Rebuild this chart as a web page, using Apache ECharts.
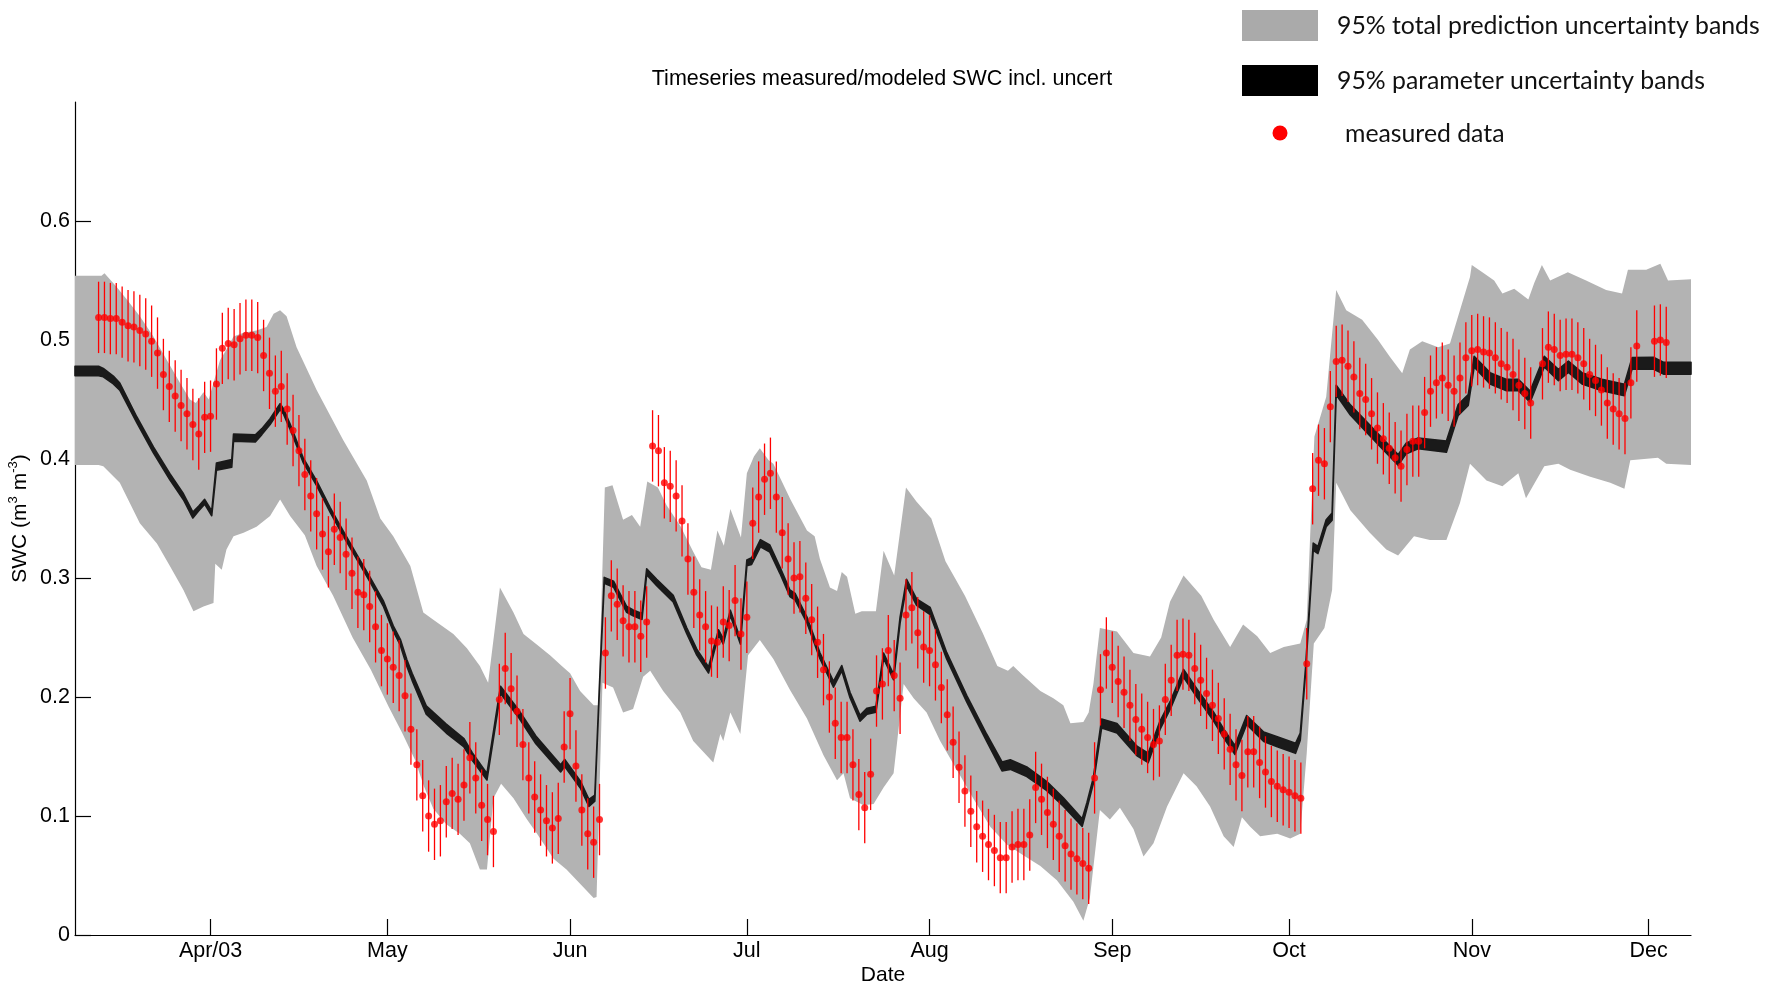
<!DOCTYPE html>
<html>
<head>
<meta charset="utf-8">
<title>SWC time series</title>
<script src="https://cdn.jsdelivr.net/npm/echarts@6/dist/echarts.min.js"></script>
<style>
  html, body { margin: 0; padding: 0; background: #ffffff; }
  #chart { width: 1777px; height: 994px; }
</style>
</head>
<body>
<div id="chart"></div>
<script>
// All day values are days counted from 1 April 2003.
const monthStarts = [0, 30, 61, 91, 122, 153, 183, 214, 244];
const monthLabels = ['Apr/03', 'May', 'Jun', 'Jul', 'Aug', 'Sep', 'Oct', 'Nov', 'Dec'];
const swcTicks = [0, 0.1, 0.2, 0.3, 0.4, 0.5, 0.6];

// 95% total prediction uncertainty: upper edge [day, SWC]
const totalUpper = [
  [-23, .554], [-18.5, .554], [-18, .556], [-16, .545], [-14.2, .534], [-12, .520], [-9.7, .503],
  [-7.4, .483], [-5.2, .464], [-3.5, .450], [-2.5, .447], [-1.2, .456], [-0.3, .450], [0.5, .464],
  [1.6, .483], [2.7, .492], [3.9, .503], [5.6, .506], [7.8, .508], [9.5, .511], [10.7, .522],
  [11.8, .525], [12.9, .520], [14.6, .494], [18, .458], [22.5, .416], [26.5, .382], [28.8, .350],
  [31, .335], [33.9, .310], [36.1, .271], [37.8, .265], [41.2, .253], [43.5, .241], [45.7, .226],
  [47.1, .212], [49.1, .292], [51.4, .271], [53.1, .253], [55.4, .244], [57.6, .235], [59.6, .226],
  [61, .220], [62.7, .205], [65, .193], [65.8, .193], [66.9, .376], [68.2, .378], [70, .349],
  [71.5, .353], [72.9, .343], [74.1, .381], [75.9, .376], [77.4, .361], [79.7, .344], [81.9, .322],
  [83.3, .309], [84.9, .307], [86, .340], [87.1, .327], [88.2, .358], [90, .334], [91, .388],
  [92.2, .402], [93.2, .409], [94.7, .399], [95.5, .396], [98.4, .366], [101.2, .340], [102.5, .335],
  [103.4, .316], [105.1, .292], [106.3, .289], [107.1, .305], [108, .301], [109.4, .270], [110.5, .272],
  [112.9, .272], [114.2, .323], [116, .302], [118, .376], [119.8, .364], [122.3, .350], [124.7, .314],
  [128, .285], [131, .254], [133.5, .226], [135.3, .222], [136.2, .226], [137.7, .219], [140.8, .205],
  [143, .199], [144.7, .193], [145.9, .178], [148.1, .179], [149, .187], [149.8, .211], [150.9, .258],
  [153.8, .255], [156.6, .237], [159.4, .234], [161.3, .250], [162.8, .280], [165.1, .302], [168.1, .285],
  [170.2, .265], [173, .242], [175.2, .261], [177.6, .251], [179.8, .237], [182.1, .242], [184.9, .245],
  [186, .265], [186.6, .338], [187.3, .419], [189.3, .452], [191, .542], [192.7, .525], [195.4, .517],
  [198.1, .500], [200.1, .486], [202.2, .472], [203.5, .492], [205.6, .499], [208.3, .494], [210.3, .497],
  [212, .525], [213.7, .553], [214, .563], [215.8, .557], [217.8, .550], [219.2, .539], [221.2, .543],
  [223.6, .534], [224.6, .548], [225.9, .563], [227.3, .550], [230.3, .557], [233.4, .550], [236.8, .542],
  [239.5, .539], [240.5, .559], [243.6, .559], [246, .564], [247.3, .550], [251.2, .551]
];

// 95% total prediction uncertainty: lower edge [day, SWC]
const totalLower = [
  [-23, .395], [-19, .395], [-18.2, .394], [-15.4, .380], [-13.7, .363], [-12, .346], [-9.1, .329],
  [-6.9, .310], [-4.6, .290], [-2.9, .272], [-1.2, .276], [0.5, .279], [0.8, .312], [1.9, .307],
  [2.7, .324], [3.9, .335], [5.6, .338], [7.8, .343], [10.1, .352], [11.8, .366], [13.5, .352],
  [16, .336], [18, .310], [20.8, .285], [24.1, .250], [27.2, .223], [30.2, .192], [32.5, .170],
  [34.7, .147], [36.2, .125], [37.8, .106], [40, .093], [42.3, .085], [44, .077], [45.7, .055],
  [46.9, .055], [48, .115], [49.3, .127], [51.4, .115], [53.7, .097], [55.4, .085], [58.2, .064],
  [60.4, .055], [62.7, .043], [65, .031], [65.5, .032], [66.5, .212], [68.3, .208], [70, .187],
  [71.7, .190], [73.4, .217], [74.6, .222], [76.8, .205], [79.7, .187], [81.9, .163], [85.3, .145],
  [86.5, .169], [87, .163], [88.2, .187], [89.9, .169], [91.2, .235], [93.2, .248], [95.5, .232],
  [98.3, .206], [101.2, .182], [104, .151], [106.3, .130], [107.4, .136], [108.5, .115], [110.8, .109],
  [112.5, .110], [114.2, .124], [115.9, .136], [117.6, .211], [119.3, .199], [121.5, .187], [123.8, .163],
  [126.6, .139], [129.4, .115], [132.3, .091], [135.1, .076], [137.9, .067], [140.8, .058], [143.6, .046],
  [146.4, .028], [148.1, .012], [149.2, .031], [150.9, .105], [152.6, .097], [154.3, .107], [156.6, .089],
  [158.3, .066], [160, .077], [162.3, .108], [165.1, .136], [167.3, .125], [169.6, .108], [171.9, .083],
  [173.6, .074], [175, .099], [176.4, .091], [178.1, .083], [181, .085], [183.2, .081], [184.9, .085],
  [186, .153], [187.2, .245], [189, .258], [190.3, .290], [191, .380], [193.4, .357], [196.7, .338],
  [199.5, .324], [201.5, .319], [204.2, .335], [206.9, .332], [209.7, .332], [212, .363], [213.7, .396],
  [216.5, .382], [219.2, .377], [221.9, .388], [223.2, .367], [226.3, .394], [228.7, .396], [230.7, .391],
  [234.1, .385], [237.5, .380], [239.9, .375], [240.9, .399], [245.6, .401], [247, .396], [251.2, .395]
];

// 95% parameter uncertainty: [day, centre SWC, band width]
const paramBand = [
  [-23, .474, .0080], [-19, .474, .0080], [-18.2, .4726, .0070], [-16.5, .4664, .0065], [-15.4, .4608, .0060],
  [-12.5, .4328, .0050], [-9.7, .4076, .0050], [-6.9, .3851, .0050], [-4.6, .3683, .0050], [-3, .3529, .0050],
  [-2, .3585, .0040], [-1, .3641, .0040], [0.2, .3543, .0040], [1, .3936, .0060], [3.6, .3963, .0065],
  [3.9, .4179, .0060], [7.6, .4173, .0060], [8.7, .4230, .0050], [10.1, .4314, .0050], [11.8, .4440, .0050],
  [12.4, .4398, .0045], [13.5, .4272, .0045], [15.7, .3992, .0040], [18, .3796, .0040], [20.3, .3571, .0040],
  [22.5, .3375, .0040], [24.8, .3179, .0040], [27.1, .2983, .0040], [29.3, .2787, .0045], [31, .2575, .0045],
  [32.2, .2460, .0050], [33.3, .2287, .0055], [34.2, .2170, .0060], [36.6, .1890, .0070], [40, .1735, .0075],
  [43, .1615, .0070], [44.4, .1500, .0065], [46.9, .1330, .0055], [49.2, .2060, .0060], [52.2, .1865, .0065],
  [55.2, .1640, .0065], [59.4, .1400, .0060], [60.1, .1445, .0060], [62.8, .1260, .0060], [64.2, .1110, .0060],
  [65.2, .1150, .0050], [66, .2100, .0030], [66.8, .2980, .0050], [68.4, .2947, .0050], [70.6, .2737, .0050],
  [71.7, .2707, .0050], [73.2, .2677, .0050], [74, .3052, .0050], [75.7, .2962, .0055], [78.5, .2827, .0055],
  [80.8, .2557, .0050], [82.5, .2377, .0050], [84.5, .2227, .0050], [86.2, .2542, .0045], [87, .2467, .0045],
  [88.2, .2707, .0045], [89.9, .2467, .0045], [91, .3127, .0050], [91.8, .3142, .0055], [93.3, .3292, .0060],
  [94.9, .3247, .0060], [96.6, .3067, .0055], [98.3, .2872, .0055], [99.2, .2842, .0055], [101.2, .2647, .0050],
  [103.4, .2347, .0050], [105.7, .2107, .0050], [107.1, .2242, .0045], [108.5, .2017, .0045], [110.2, .1822, .0050],
  [111.4, .1881, .0050], [112.9, .1897, .0050], [114.2, .2347, .0045], [115.9, .2167, .0045], [117, .2647, .0050],
  [118.1, .2962, .0055], [119.8, .2797, .0055], [122.1, .2722, .0060], [124.9, .2347, .0055], [128.3, .1987, .0055],
  [131.7, .1657, .0060], [134.3, .1417, .0075], [135.7, .1432, .0080], [138.5, .1372, .0080], [141.9, .1251, .0075],
  [144.7, .1117, .0070], [147.9, .0945, .0065], [148.7, .1087, .0050], [149.8, .1300, .0050], [151.2, .1778, .0075],
  [153.8, .1737, .0080], [157.2, .1546, .0080], [159.1, .1488, .0080], [161.1, .1763, .0070], [162.9, .1937, .0065],
  [165.1, .2199, .0065], [167.4, .2031, .0070], [170.2, .1835, .0075], [171.9, .1695, .0075], [173.8, .1555, .0075],
  [175.8, .1807, .0075], [178.7, .1666, .0080], [181, .1624, .0085], [184.1, .1569, .0085], [184.9, .1666, .0060],
  [185.8, .2227, .0040], [187.1, .3263, .0060], [187.9, .3235, .0060], [189.3, .3460, .0060], [190.3, .3515, .0060],
  [191, .4580, .0080], [193.4, .4412, .0085], [196.1, .4272, .0090], [198.8, .4132, .0090], [201.5, .3992, .0090],
  [202.9, .4090, .0090], [204.9, .4132, .0090], [209.7, .4104, .0095], [211.7, .4412, .0090], [213.4, .4496, .0090],
  [214.4, .4818, .0090], [217.1, .4678, .0095], [219.8, .4622, .0095], [221.9, .4622, .0095], [223.9, .4524, .0095],
  [226.3, .4818, .0090], [228.7, .4706, .0095], [230.4, .4776, .0095], [232.7, .4678, .0095], [236.1, .4622, .0095],
  [239.9, .4580, .0095], [241.2, .4804, .0095], [244.9, .4804, .0100], [246.6, .4762, .0100], [251.2, .4762, .0100]
];

// Measured soil water content [day, SWC]
const measured = [
  [-19, .519], [-18, .519], [-17, .518], [-16, .518], [-15, .515], [-14, .512], [-13, .511], [-12, .508],
  [-11, .505], [-10, .499], [-9, .489], [-8, .471], [-7, .461], [-6, .453], [-5, .445], [-4, .438],
  [-3, .429], [-2, .421], [-1, .435], [0, .436], [1, .463], [2, .493], [3, .497], [4, .496],
  [5, .501], [6, .504], [7, .504], [8, .502], [9, .487], [10, .472], [11, .457], [12, .461],
  [13, .442], [14, .424], [15, .407], [16, .387], [17, .369], [18, .354], [19, .337], [20, .322],
  [21, .341], [22, .334], [23, .320], [24, .304], [25, .288], [26, .286], [27, .276], [28, .259],
  [29, .239], [30, .232], [31, .225], [32, .218], [33, .201], [34, .173], [35, .143], [36, .117],
  [37, .100], [38, .093], [39, .096], [40, .112], [41, .119], [42, .114], [43, .126], [44, .149],
  [45, .132], [46, .109], [47, .097], [48, .087], [49, .198], [50, .224], [51, .207], [52, .188],
  [53, .160], [54, .132], [55, .116], [56, .105], [57, .096], [58, .090], [59, .098], [60, .158],
  [61, .186], [62, .142], [63, .105], [64, .085], [65, .078], [66, .097], [67, .237], [68, .285],
  [69, .278], [70, .264], [71, .259], [72, .259], [73, .251], [74, .263], [75, .411], [76, .407],
  [77, .380], [78, .377], [79, .369], [80, .348], [81, .316], [82, .288], [83, .269], [84, .259],
  [85, .247], [86, .246], [87, .263], [88, .260], [89, .281], [90, .253], [91, .267], [92, .346],
  [93, .368], [94, .383], [95, .388], [96, .368], [97, .338], [98, .316], [99, .300], [100, .301],
  [101, .283], [102, .265], [103, .246], [104, .223], [105, .200], [106, .178], [107, .166], [108, .166],
  [109, .143], [110, .118], [111, .107], [112, .135], [113, .205], [114, .211], [115, .239], [116, .218],
  [117, .199], [118, .269], [119, .275], [120, .254], [121, .242], [122, .239], [123, .227], [124, .208],
  [125, .185], [126, .162], [127, .141], [128, .121], [129, .104], [130, .091], [131, .083], [132, .076],
  [133, .071], [134, .065], [135, .065], [136, .074], [137, .076], [138, .076], [139, .084], [140, .124],
  [141, .114], [142, .103], [143, .093], [144, .083], [145, .075], [146, .068], [147, .064], [148, .060],
  [149, .056], [150, .132], [151, .206], [152, .237], [153, .225], [154, .213], [155, .204], [156, .193],
  [157, .181], [158, .173], [159, .166], [160, .160], [161, .163], [162, .198], [163, .214], [164, .235],
  [165, .236], [166, .235], [167, .224], [168, .214], [169, .203], [170, .193], [171, .182], [172, .169],
  [173, .156], [174, .143], [175, .134], [176, .154], [177, .154], [178, .145], [179, .137], [180, .129],
  [181, .125], [182, .122], [183, .120], [184, .117], [185, .115], [186, .228], [187, .375], [188, .399],
  [189, .396], [190, .444], [191, .482], [192, .483], [193, .478], [194, .469], [195, .455], [196, .450],
  [197, .438], [198, .426], [199, .417], [200, .409], [201, .401], [202, .394], [203, .408], [204, .415],
  [205, .415], [206, .439], [207, .457], [208, .464], [209, .468], [210, .462], [211, .457], [212, .468],
  [213, .485], [214, .491], [215, .492], [216, .490], [217, .489], [218, .485], [219, .480], [220, .477],
  [221, .471], [222, .462], [223, .455], [224, .447], [226, .480], [227, .494], [228, .492], [229, .487],
  [230, .488], [231, .488], [232, .485], [233, .480], [234, .471], [235, .466], [236, .458], [237, .447],
  [238, .442], [239, .438], [240, .434], [241, .464], [242, .495], [245, .499], [246, .500], [247, .498]
];
const measuredError = 0.03;

const AXIS_FONT = '"Liberation Sans", Arial, Helvetica, sans-serif';
const LEGEND_FONT = 'Lato, "Open Sans", sans-serif';
const BAND_GREY = '#b3b3b3';
const BAND_BLACK = '#1a1a1a';
const RED = '#ff0000';

// Polygon filling the space between an upper and a lower edge, drawn through the axes.
function bandSeries(name, upper, lower, fill, z, strokeWidth) {
  return {
    name: name,
    type: 'custom',
    coordinateSystem: 'cartesian2d',
    silent: true,
    z: z,
    data: [[upper[0][0], upper[0][1]]],
    renderItem: function (params, api) {
      const pts = upper.map(p => api.coord(p))
        .concat(lower.slice().reverse().map(p => api.coord(p)));
      return {
        type: 'polygon',
        shape: { points: pts },
        style: {
          fill: fill,
          stroke: strokeWidth ? fill : null,
          lineWidth: strokeWidth || 0,
          lineJoin: 'round'
        }
      };
    }
  };
}

const paramUpper = paramBand.map(r => [r[0], r[1] + r[2] / 2]);
const paramLower = paramBand.map(r => [r[0], r[1] - r[2] / 2]);

const chart = echarts.init(document.getElementById('chart'), null, { renderer: 'canvas' });

chart.setOption({
  animation: false,
  backgroundColor: '#ffffff',
  title: {
    text: 'Timeseries measured/modeled SWC incl. uncert',
    left: 882,
    top: 79,
    padding: 0,
    textAlign: 'center',
    textVerticalAlign: 'middle',
    textStyle: { fontFamily: AXIS_FONT, fontSize: 21.5, fontWeight: 'normal', color: '#000' }
  },
  grid: { left: 75, right: 86, top: 102, bottom: 59, containLabel: false, outerBoundsMode: 'none' },
  xAxis: {
    type: 'value',
    min: -23,
    max: 251.2,
    name: 'Date',
    nameLocation: 'middle',
    nameGap: 30,
    nameMoveOverlap: false,
    nameTextStyle: { fontFamily: AXIS_FONT, fontSize: 21, color: '#000' },
    axisLine: { show: true, onZero: false, lineStyle: { color: '#000', width: 1.2 } },
    axisTick: { show: true, inside: true, length: 16, customValues: monthStarts,
      lineStyle: { color: '#000', width: 1.2 } },
    axisLabel: {
      customValues: monthStarts,
      formatter: v => monthLabels[monthStarts.indexOf(v)],
      fontFamily: AXIS_FONT, fontSize: 21.5, color: '#000', margin: 5
    },
    splitLine: { show: false }
  },
  yAxis: {
    type: 'value',
    min: 0,
    max: 0.7,
    name: 'SWC (m{sup|3} m{sup|-3})',
    nameLocation: 'middle',
    nameRotate: 90,
    nameGap: 42,
    nameMoveOverlap: false,
    nameTextStyle: {
      fontFamily: AXIS_FONT, fontSize: 21, color: '#000', lineHeight: 26,
      rich: { sup: { fontFamily: AXIS_FONT, fontSize: 13, color: '#000', verticalAlign: 'top', lineHeight: 26 } }
    },
    axisLine: { show: true, onZero: false, lineStyle: { color: '#000', width: 1.2 } },
    axisTick: { show: true, inside: true, length: 16, customValues: swcTicks,
      lineStyle: { color: '#000', width: 1.2 } },
    axisLabel: {
      customValues: swcTicks,
      formatter: v => String(+v.toFixed(1)),
      fontFamily: AXIS_FONT, fontSize: 21.5, color: '#000', margin: 5
    },
    splitLine: { show: false }
  },
  series: [
    bandSeries('95% total prediction uncertainty bands', totalUpper, totalLower, BAND_GREY, 1, 0),
    bandSeries('95% parameter uncertainty bands', paramUpper, paramLower, BAND_BLACK, 2, 1.6),
    {
      name: 'measured error',
      type: 'custom',
      coordinateSystem: 'cartesian2d',
      silent: true,
      z: 3,
      data: measured,
      renderItem: function (params, api) {
        const d = api.value(0), v = api.value(1);
        const lo = api.coord([d, v - measuredError]);
        const hi = api.coord([d, v + measuredError]);
        return {
          type: 'line',
          shape: { x1: lo[0], y1: lo[1], x2: hi[0], y2: hi[1] },
          style: { stroke: RED, lineWidth: 1.3 }
        };
      }
    },
    {
      name: 'measured data',
      type: 'scatter',
      z: 4,
      symbol: 'circle',
      symbolSize: 7,
      itemStyle: { color: RED },
      data: measured
    }
  ],
  graphic: [
    { type: 'rect', shape: { x: 1242, y: 10, width: 76, height: 31 }, style: { fill: '#aaaaaa' } },
    { type: 'rect', shape: { x: 1242, y: 65, width: 76, height: 31 }, style: { fill: '#000000' } },
    { type: 'circle', shape: { cx: 1280, cy: 133, r: 7.5 }, style: { fill: RED } },
    { type: 'text', x: 1337, y: 26, style: { text: '95% total prediction uncertainty bands',
        font: '24.8px ' + LEGEND_FONT, fill: '#111', verticalAlign: 'middle', textVerticalAlign: 'middle' } },
    { type: 'text', x: 1337, y: 81, style: { text: '95% parameter uncertainty bands',
        font: '24.8px ' + LEGEND_FONT, fill: '#111', verticalAlign: 'middle', textVerticalAlign: 'middle' } },
    { type: 'text', x: 1345, y: 134, style: { text: 'measured data',
        font: '24.8px ' + LEGEND_FONT, fill: '#111', verticalAlign: 'middle', textVerticalAlign: 'middle' } }
  ]
});
</script>
</body>
</html>
